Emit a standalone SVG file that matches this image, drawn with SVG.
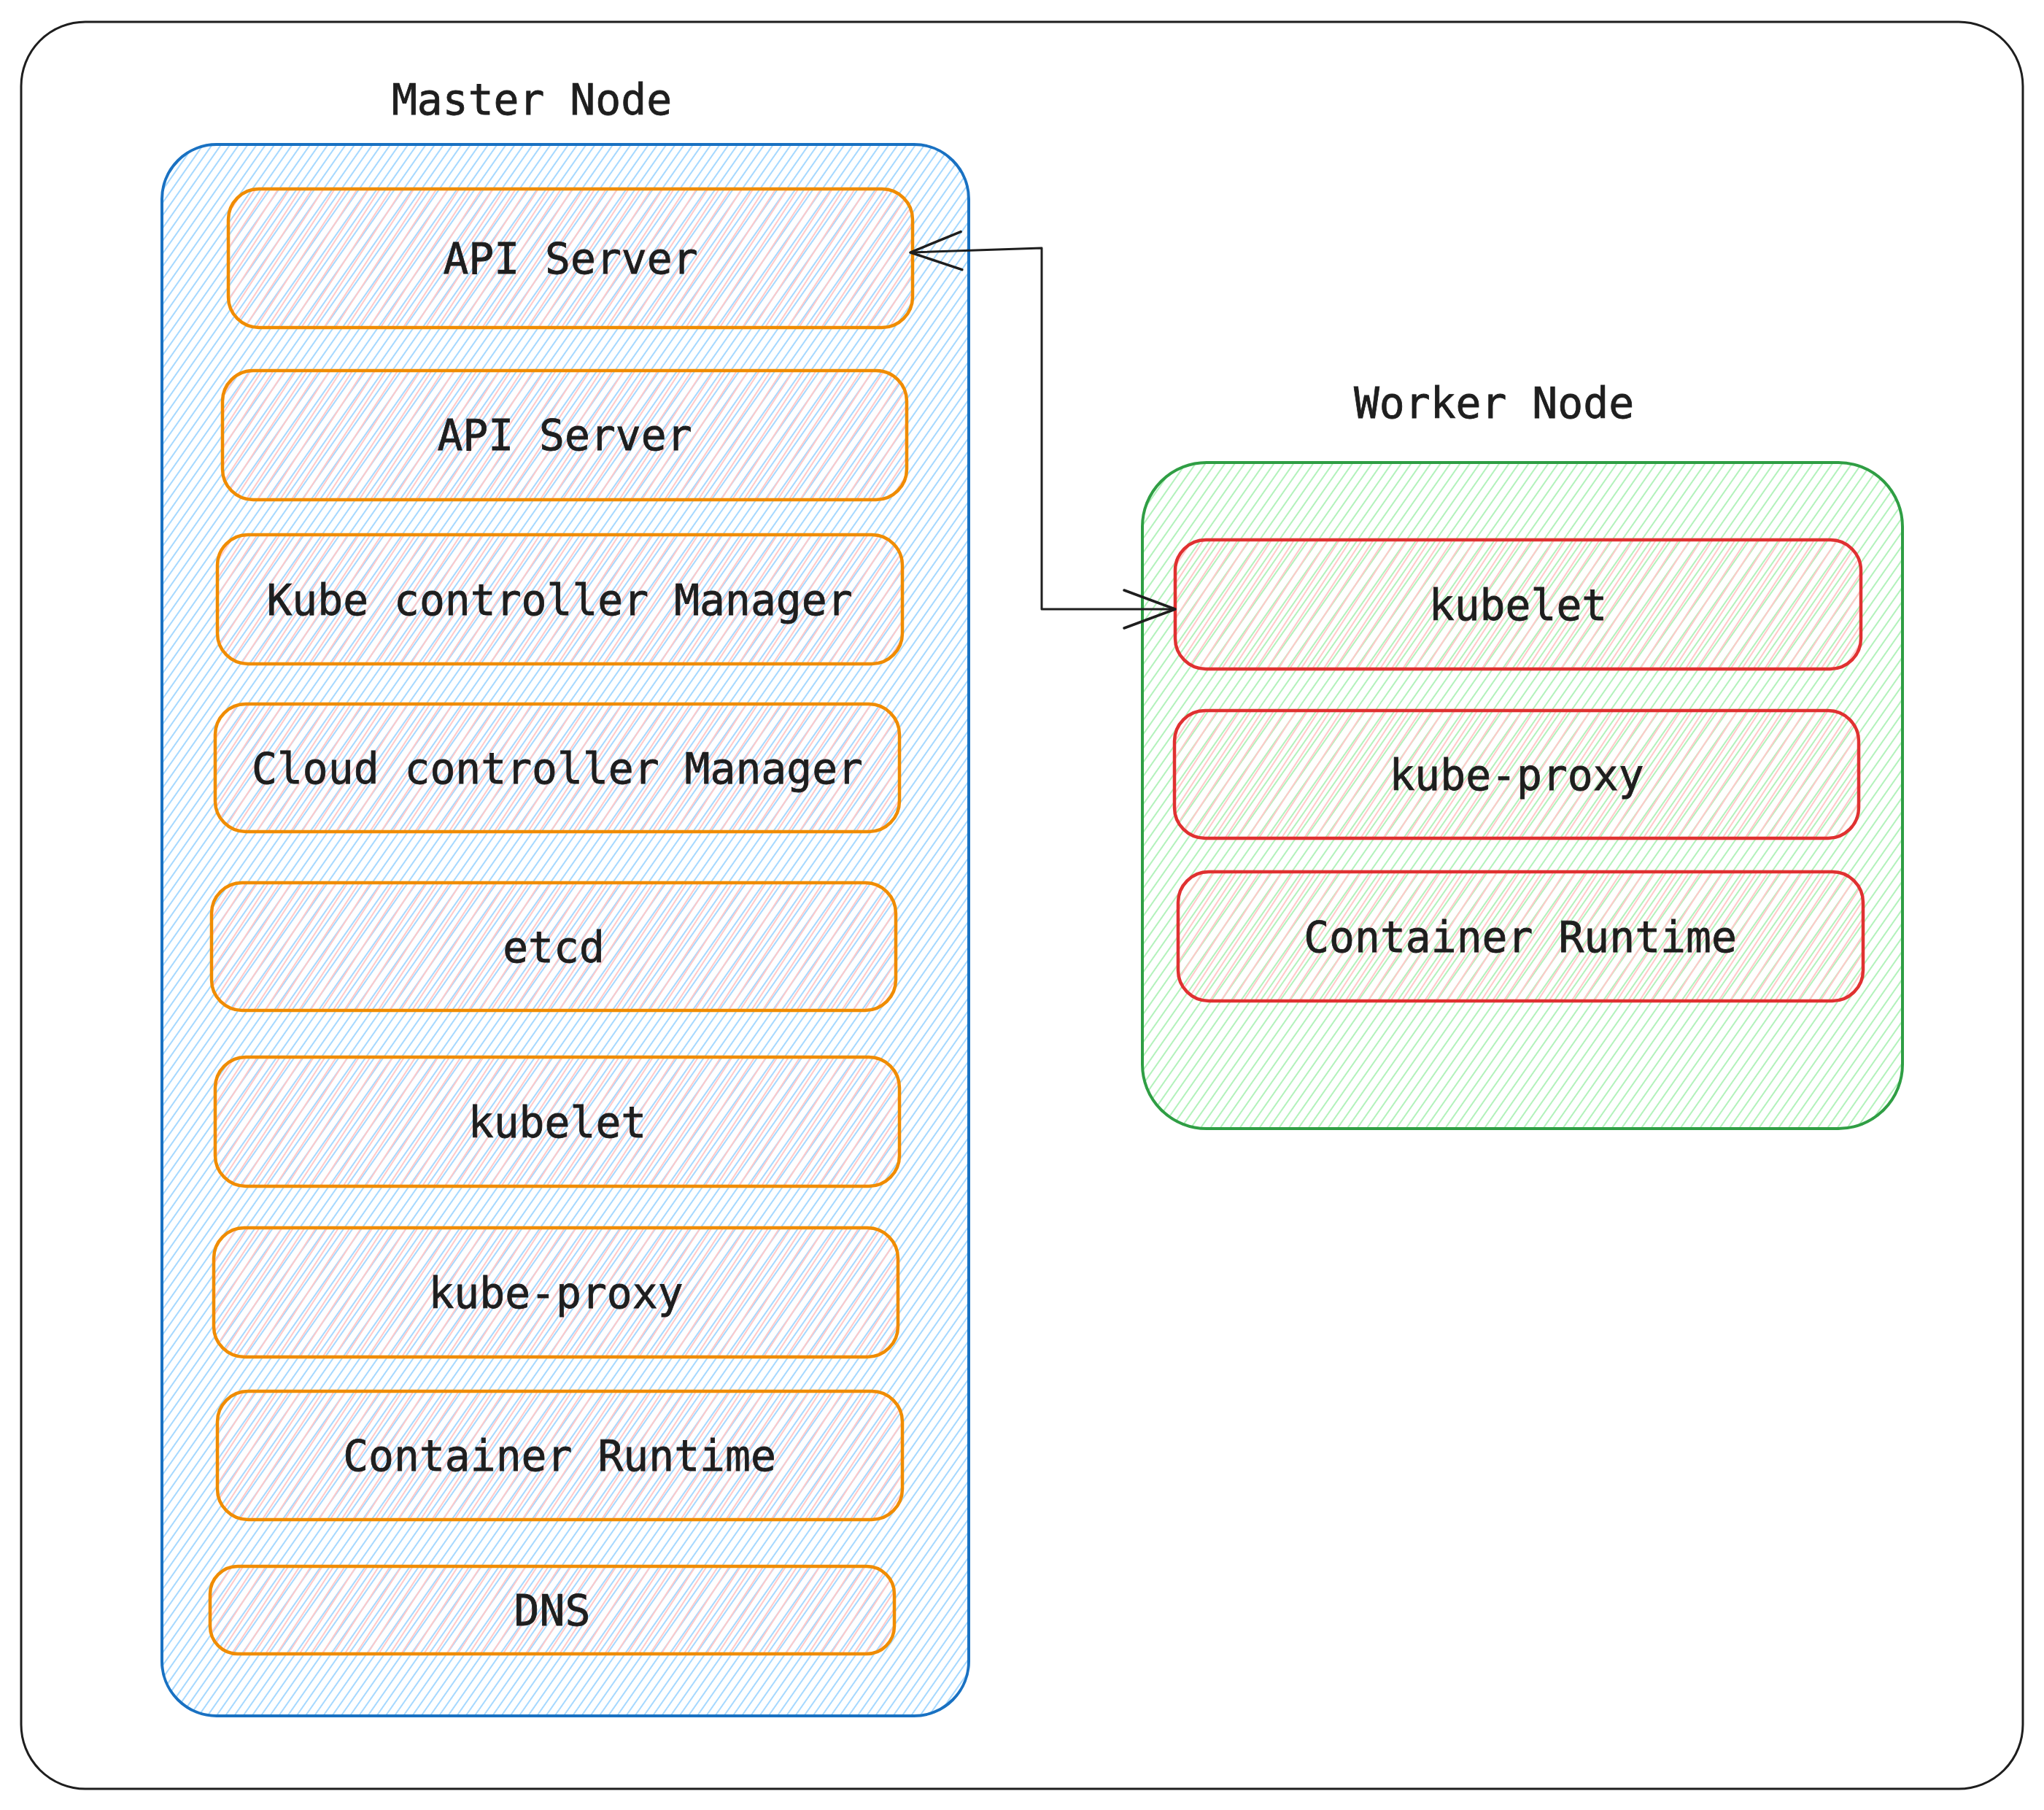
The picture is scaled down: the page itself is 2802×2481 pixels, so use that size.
<svg xmlns="http://www.w3.org/2000/svg" width="2802" height="2481" viewBox="0 0 2802 2481">
<style>
.lbl{font-family:"DejaVu Sans Mono","Liberation Mono",monospace;font-size:58px;fill:#1e1e1e;text-anchor:middle;stroke:#1e1e1e;stroke-width:0.8}
.frame{fill:none;stroke:#1e1e1e;stroke-width:3}
.master{fill:url(#hBlue);stroke:#1971c2;stroke-width:4}
.worker{fill:url(#hGreen);stroke:#2f9e44;stroke-width:4}
.comp{fill:url(#hPink);stroke:#f08c00;stroke-width:4.5}
.wcomp{fill:url(#hPink);stroke:#e03131;stroke-width:4.5}
.conn{fill:none;stroke:#1e1e1e;stroke-width:3;stroke-linejoin:round}
</style>
<defs>
<pattern id="hBlue" width="10" height="40" patternUnits="userSpaceOnUse" patternTransform="rotate(35)">
<line x1="2" y1="0" x2="2" y2="40" stroke="#a5d8ff" stroke-width="2"/>
</pattern>
<pattern id="hGreen" width="11" height="40" patternUnits="userSpaceOnUse" patternTransform="rotate(35)">
<line x1="2" y1="0" x2="2" y2="40" stroke="#b2f2bb" stroke-width="2"/>
</pattern>
<pattern id="hPink" width="13" height="40" patternUnits="userSpaceOnUse" patternTransform="rotate(33)">
<line x1="6" y1="0" x2="6" y2="40" stroke="#ffc9c9" stroke-width="2"/>
</pattern>
<marker id="arr" viewBox="-5 -32 82 64" refX="70" refY="0" markerWidth="82" markerHeight="64" markerUnits="userSpaceOnUse" orient="auto-start-reverse">
<path d="M0,-26 L70,0 L0,26" fill="none" stroke="#1e1e1e" stroke-width="3.5" stroke-linecap="round" stroke-linejoin="round"/>
</marker>
</defs>
<rect width="2802" height="2481" fill="#ffffff"/>
<g id="cluster">
<rect class="frame" x="29" y="30" width="2744" height="2422" rx="88" ry="88"/>
</g>
<g id="master-node">
<rect class="master" x="222" y="198" width="1106" height="2154" rx="75" ry="75"/>
<text class="lbl" x="729" y="157">Master Node</text>
</g>
<g id="worker-node">
<rect class="worker" x="1566" y="634" width="1042" height="913" rx="88" ry="88"/>
<text class="lbl" x="2048" y="573">Worker Node</text>
</g>
<g id="m-api-server-1">
<rect class="comp" x="313" y="259" width="938" height="190" rx="42" ry="42"/>
<text class="lbl" x="782" y="375">API Server</text>
</g>
<g id="m-api-server-2">
<rect class="comp" x="305" y="508" width="938" height="177" rx="42" ry="42"/>
<text class="lbl" x="774" y="617">API Server</text>
</g>
<g id="m-kube-controller-manager">
<rect class="comp" x="298" y="733" width="939" height="177" rx="42" ry="42"/>
<text class="lbl" x="767" y="843">Kube controller Manager</text>
</g>
<g id="m-cloud-controller-manager">
<rect class="comp" x="295" y="965" width="938" height="175" rx="42" ry="42"/>
<text class="lbl" x="764" y="1074">Cloud controller Manager</text>
</g>
<g id="m-etcd">
<rect class="comp" x="290" y="1210" width="938" height="175" rx="42" ry="42"/>
<text class="lbl" x="759" y="1319">etcd</text>
</g>
<g id="m-kubelet">
<rect class="comp" x="295" y="1449" width="938" height="177" rx="42" ry="42"/>
<text class="lbl" x="764" y="1559">kubelet</text>
</g>
<g id="m-kube-proxy">
<rect class="comp" x="293" y="1683" width="938" height="177" rx="42" ry="42"/>
<text class="lbl" x="762" y="1793">kube-proxy</text>
</g>
<g id="m-container-runtime">
<rect class="comp" x="298" y="1907" width="939" height="176" rx="42" ry="42"/>
<text class="lbl" x="767" y="2016">Container Runtime</text>
</g>
<g id="m-dns">
<rect class="comp" x="288" y="2147" width="938" height="120" rx="38" ry="38"/>
<text class="lbl" x="757" y="2228">DNS</text>
</g>
<g id="w-kubelet">
<rect class="wcomp" x="1611" y="740" width="940" height="177" rx="42" ry="42"/>
<text class="lbl" x="2081" y="850">kubelet</text>
</g>
<g id="w-kube-proxy">
<rect class="wcomp" x="1610" y="974" width="938" height="175" rx="42" ry="42"/>
<text class="lbl" x="2079" y="1083">kube-proxy</text>
</g>
<g id="w-container-runtime">
<rect class="wcomp" x="1615" y="1195" width="939" height="177" rx="42" ry="42"/>
<text class="lbl" x="2084" y="1305">Container Runtime</text>
</g>
<g id="connectors">
<path class="conn" d="M1248,346 L1428,340 L1428,835 L1611,835" marker-start="url(#arr)" marker-end="url(#arr)"/>
</g>
</svg>
